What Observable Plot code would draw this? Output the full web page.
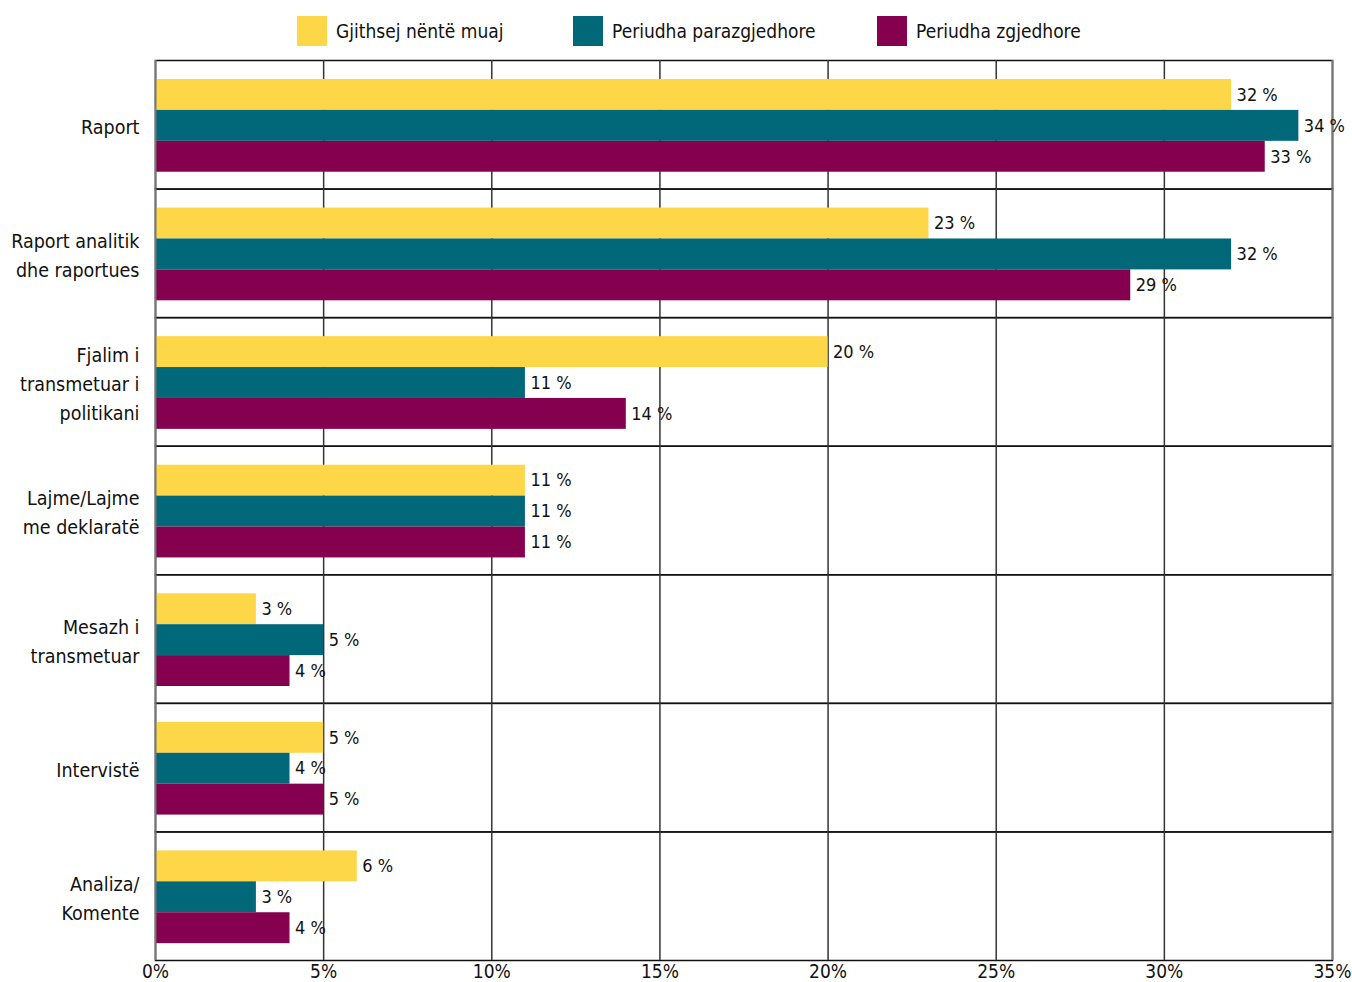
<!DOCTYPE html>
<html>
<head>
<meta charset="utf-8">
<script src="https://cdn.jsdelivr.net/npm/d3@7"></script>
<script src="https://cdn.jsdelivr.net/npm/@observablehq/plot@0.6"></script>
<style>
  html, body { margin: 0; padding: 0; background: #fff; overflow: hidden; }
  body { font-family: "DejaVu Sans Condensed", sans-serif; color: #111; }
  #legend { height: 58px; position: relative; }
  .item { position: absolute; top: 16px; height: 30px; display: flex; align-items: center; font-size: 19px; white-space: nowrap; }
  .sw { width: 30px; height: 30px; margin-right: 9px; flex: none; }
  #chart svg { display: block; }
</style>
</head>
<body>
<div id="legend"></div>
<div id="chart"></div>
<script>
const categories = ["Raport", "Raport analitik", "Fjalim i transmetuar", "Lajme/Lajme me deklaratë", "Mesazh i transmetuar", "Intervistë", "Analiza/Komente"];
const categoryLabels = ["Raport", "Raport analitik\ndhe raportues", "Fjalim i\ntransmetuar i\npolitikani", "Lajme/Lajme\nme deklaratë", "Mesazh i\ntransmetuar", "Intervistë", "Analiza/\nKomente"];
const series = ["Gjithsej nëntë muaj", "Periudha parazgjedhore", "Periudha zgjedhore"];
const colors = ["#FED748", "#006878", "#85004F"];
const gjithsej = [32, 23, 20, 11, 3, 5, 6];
const parazgjedhore = [34, 32, 11, 11, 5, 4, 3];
const zgjedhore = [33, 29, 14, 11, 4, 5, 4];
const xTicks = [0, 5, 10, 15, 20, 25, 30, 35];
const gridTicks = [5, 10, 15, 20, 25, 30];
const edgeTicks = [0, 35];
const legendLeft = [297, 573, 877];

const seriesValues = [gjithsej, parazgjedhore, zgjedhore];
const rows = categories.flatMap((c, i) => series.map((s, j) => ({category: c, series: s, value: seriesValues[j][i]})));
const labelOf = new Map(categories.map((c, i) => [c, categoryLabels[i]]));

const legend = document.getElementById("legend");
series.forEach((s, i) => {
  const it = document.createElement("div");
  it.className = "item";
  it.style.left = legendLeft[i] + "px";
  it.innerHTML = `<div class="sw" style="background:${colors[i]}"></div><span>${s}</span>`;
  legend.appendChild(it);
});

const chart = Plot.plot({
  width: 1352,
  height: 924,
  marginLeft: 155,
  marginRight: 20,
  marginTop: 2,
  marginBottom: 22,
  style: {fontFamily: '"DejaVu Sans Condensed", sans-serif', fontSize: "19px", color: "#111", background: "#fff"},
  x: {domain: [0, 35], ticks: xTicks, tickFormat: d => d + "%", tickSize: 0, tickPadding: 4, label: null},
  fy: {domain: categories, padding: 0, round: false, axis: null, label: null},
  y: {domain: series, paddingInner: 0, paddingOuter: 0.58, align: 0.53, round: false, axis: null, label: null},
  color: {domain: series, range: colors},
  marks: [
    Plot.frame({stroke: "#111", strokeWidth: 1.5}),
    Plot.ruleX(gridTicks, {stroke: "#333", strokeWidth: 1.5}),
    Plot.barX(rows, {fy: "category", y: "series", x: "value", fill: "series"}),
    Plot.ruleX(edgeTicks, {stroke: "#777", strokeWidth: 2}),
    Plot.text(categories, {fy: d => d, text: d => labelOf.get(d), frameAnchor: "left", textAnchor: "end", dx: -16, fontSize: 19.5, lineHeight: 1.49, fill: "#111"}),
    Plot.text(rows, {fy: "category", y: "series", x: "value", text: d => d.value + " %", textAnchor: "start", dx: 5, fontSize: 18, fill: "#111"})
  ]
});
document.getElementById("chart").appendChild(chart);
</script>
</body>
</html>
